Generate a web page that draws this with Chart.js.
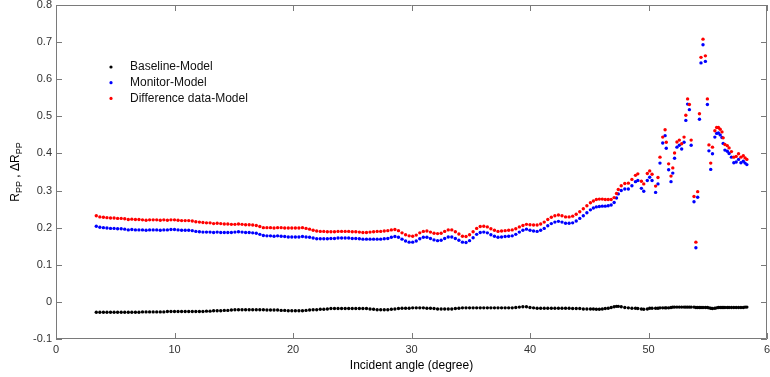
<!DOCTYPE html>
<html>
<head>
<meta charset="utf-8">
<script src="https://cdn.jsdelivr.net/npm/chart.js@4/dist/chart.umd.min.js"></script>
<style>
  html, body { margin: 0; padding: 0; background: #fff; }
  #wrap { width: 770px; height: 377px; }
</style>
</head>
<body>
<div id="wrap"><canvas id="myChart" width="770" height="377"></canvas></div>
<script>
// ================= Data =================
const angles = [
  3.4,3.7,4,4.3,4.6,4.9,5.2,5.5,5.8,6.1,
  6.4,6.7,7,7.3,7.6,7.9,8.2,8.5,8.8,9.1,
  9.4,9.7,10,10.3,10.6,10.9,11.2,11.5,11.8,12.1,
  12.4,12.7,13,13.3,13.6,13.9,14.2,14.5,14.8,15.1,
  15.4,15.7,16,16.3,16.6,16.9,17.2,17.5,17.8,18.1,
  18.4,18.7,19,19.3,19.6,19.9,20.2,20.5,20.8,21.1,
  21.4,21.7,22,22.3,22.6,22.9,23.2,23.5,23.8,24.1,
  24.4,24.7,25,25.3,25.6,25.9,26.2,26.5,26.8,27.1,
  27.4,27.7,28,28.3,28.6,28.9,29.2,29.5,29.8,30.1,
  30.4,30.7,31,31.3,31.6,31.9,32.2,32.5,32.8,33.1,
  33.4,33.7,34,34.3,34.6,34.9,35.2,35.5,35.8,36.1,
  36.4,36.7,37,37.3,37.6,37.9,38.2,38.5,38.8,39.1,
  39.4,39.7,40,40.3,40.6,40.9,41.2,41.5,41.8,42.1,
  42.4,42.7,43,43.3,43.6,43.9,44.2,44.5,44.8,45.1,
  45.35,45.6,45.85,46.1,46.35,46.6,46.85,47.1,47.3,47.45,
  47.7,48,48.3,48.6,48.9,49.1,49.4,49.6,49.9,50.1,
  50.3,50.6,50.8,50.97,51.2,51.4,51.5,51.7,51.9,52.05,
  52.2,52.4,52.6,52.8,53,53.15,53.3,53.45,53.6,53.84,
  54,54.15,54.3,54.43,54.6,54.8,54.97,55.1,55.25,55.4,
  55.6,55.75,55.9,56.05,56.2,56.3,56.45,56.65,56.8,57,
  57.2,57.4,57.6,57.8,58,58.15,58.3
];

const baseline = [
  -.028,-.028,-.028,-.028,-.028,-.028,-.028,-.028,-.028,-.028,
  -.028,-.028,-.028,-.027,-.027,-.027,-.027,-.027,-.027,-.027,
  -.026,-.026,-.026,-.026,-.026,-.026,-.026,-.026,-.026,-.026,
  -.026,-.025,-.025,-.024,-.024,-.024,-.023,-.023,-.022,-.021,
  -.021,-.021,-.021,-.021,-.021,-.021,-.021,-.021,-.022,-.022,
  -.022,-.022,-.023,-.023,-.024,-.024,-.024,-.024,-.024,-.023,
  -.022,-.021,-.021,-.020,-.020,-.019,-.018,-.018,-.018,-.018,
  -.018,-.018,-.018,-.018,-.018,-.018,-.018,-.019,-.020,-.021,
  -.021,-.021,-.021,-.020,-.019,-.018,-.017,-.017,-.017,-.016,
  -.016,-.016,-.016,-.017,-.017,-.018,-.019,-.019,-.019,-.019,
  -.019,-.018,-.017,-.016,-.016,-.016,-.016,-.016,-.016,-.016,
  -.016,-.016,-.016,-.016,-.016,-.016,-.016,-.016,-.015,-.014,
  -.013,-.013,-.015,-.016,-.017,-.017,-.017,-.017,-.017,-.017,
  -.017,-.017,-.017,-.017,-.018,-.018,-.018,-.019,-.019,-.019,
  -.019,-.020,-.020,-.019,-.018,-.017,-.015,-.013,-.012,-.012,
  -.013,-.015,-.016,-.017,-.017,-.018,-.019,-.020,-.019,-.017,
  -.017,-.017,-.017,-.016,-.016,-.016,-.016,-.016,-.015,-.014,
  -.014,-.014,-.014,-.014,-.014,-.014,-.014,-.014,-.014,-.014,
  -.015,-.015,-.015,-.015,-.015,-.015,-.015,-.016,-.017,-.018,
  -.017,-.016,-.015,-.015,-.015,-.015,-.015,-.015,-.015,-.015,
  -.015,-.015,-.015,-.015,-.015,-.014,-.014
];

const monitor = [
  .204,.201,.200,.199,.198,.198,.197,.197,.196,.194,
  .195,.194,.194,.194,.193,.194,.194,.194,.193,.194,
  .194,.195,.195,.194,.193,.193,.193,.192,.190,.189,
  .188,.188,.188,.187,.188,.187,.187,.187,.187,.188,
  .189,.188,.187,.187,.186,.185,.182,.179,.178,.178,
  .177,.178,.177,.176,.175,.175,.175,.175,.176,.175,
  .174,.172,.170,.170,.170,.170,.171,.171,.172,.172,
  .172,.172,.171,.171,.170,.169,.169,.169,.169,.169,
  .169,.170,.171,.174,.176,.174,.169,.164,.161,.161,
  .164,.170,.174,.174,.171,.167,.165,.166,.171,.175,
  .175,.171,.166,.161,.160,.165,.173,.182,.187,.188,
  .186,.181,.177,.174,.175,.176,.177,.178,.182,.188,
  .193,.196,.193,.191,.190,.193,.198,.205,.211,.215,
  .217,.215,.212,.212,.213,.218,.225,.232,.240,.248,
  .253,.256,.257,.258,.258,.259,.261,.268,.280,.291,
  .300,.304,.304,.313,.324,.327,.306,.298,.327,.336,
  .327,.295,.318,.374,.428,.448,.414,.356,.324,.347,
  .387,.417,.422,.412,.430,.489,.533,.518,.422,.270,
  .146,.282,.492,.644,.693,.648,.532,.407,.357,.399,
  .444,.454,.455,.450,.443,.427,.409,.406,.400,.390,
  .375,.377,.384,.375,.379,.374,.370
];

const difference = [
  .232,.229,.228,.227,.226,.226,.225,.225,.224,.222,
  .223,.222,.222,.221,.220,.221,.221,.221,.220,.221,
  .220,.221,.221,.220,.219,.219,.219,.218,.216,.215,
  .214,.213,.213,.211,.212,.211,.210,.210,.209,.209,
  .210,.209,.208,.208,.207,.206,.203,.200,.200,.200,
  .199,.200,.200,.199,.199,.199,.199,.199,.200,.198,
  .196,.193,.191,.190,.190,.189,.189,.189,.190,.190,
  .190,.190,.189,.189,.188,.187,.187,.188,.189,.190,
  .190,.191,.192,.194,.195,.192,.186,.181,.178,.177,
  .180,.186,.190,.191,.188,.185,.184,.185,.190,.194,
  .194,.189,.183,.177,.176,.181,.189,.198,.203,.204,
  .202,.197,.193,.190,.191,.192,.193,.194,.197,.202,
  .206,.209,.208,.207,.207,.210,.215,.222,.228,.232,
  .234,.232,.229,.229,.231,.236,.243,.251,.259,.267,
  .272,.276,.277,.277,.276,.276,.276,.281,.292,.303,
  .313,.319,.320,.330,.341,.345,.325,.318,.346,.353,
  .344,.312,.335,.390,.444,.464,.430,.372,.339,.361,
  .401,.431,.436,.426,.444,.503,.547,.532,.436,.284,
  .161,.297,.507,.659,.708,.663,.547,.423,.374,.417,
  .461,.470,.470,.465,.458,.442,.424,.421,.415,.405,
  .390,.392,.399,.390,.394,.388,.384
];

const seriesNames = ['Baseline-Model', 'Monitor-Model', 'Difference data-Model'];
const seriesColors = ['#000000', '#0000ff', '#ff0000'];
const xTickLabels = ['0', '10', '20', '30', '40', '50', '6'];
const yTickLabels = ['-0.1', '0', '0.1', '0.2', '0.3', '0.4', '0.5', '0.6', '0.7', '0.8'];

const FONT = 'Arial, "Liberation Sans", sans-serif';

function toPoints(values) {
  return angles.map((a, i) => ({ x: a, y: values[i] }));
}

// ================= Plugins =================
// box around plot with inward ticks on all four sides (matlab style)
const framePlugin = {
  id: 'frame',
  afterDraw(chart) {
    const { ctx, chartArea: a, scales: { x, y } } = chart;
    ctx.save();
    ctx.strokeStyle = '#7a7a7a';
    ctx.lineWidth = 1;
    ctx.beginPath();
    ctx.rect(a.left + 0.5, a.top + 0.5, a.right - a.left - 1, a.bottom - a.top - 1);
    x.ticks.forEach(t => {
      const px = Math.round(x.getPixelForValue(t.value)) + 0.5;
      ctx.moveTo(px, a.bottom); ctx.lineTo(px, a.bottom - 6);
      ctx.moveTo(px, a.top); ctx.lineTo(px, a.top + 6);
    });
    y.ticks.forEach(t => {
      const py = Math.round(y.getPixelForValue(t.value)) + 0.5;
      ctx.moveTo(a.left, py); ctx.lineTo(a.left + 6, py);
      ctx.moveTo(a.right, py); ctx.lineTo(a.right - 6, py);
    });
    ctx.stroke();
    ctx.restore();
  }
};

// y title with subscripts: R_PP , ΔR_PP
const yTitlePlugin = {
  id: 'yTitle',
  afterDraw(chart) {
    const { ctx, chartArea: a } = chart;
    const parts = [
      { t: 'R', sub: false }, { t: 'PP', sub: true },
      { t: ' , \u0394R', sub: false }, { t: 'PP', sub: true }
    ];
    const big = '12px ' + FONT, small = '9px ' + FONT;
    ctx.save();
    let total = 0;
    parts.forEach(p => { ctx.font = p.sub ? small : big; p.w = ctx.measureText(p.t).width; total += p.w; });
    ctx.translate(16, (a.top + a.bottom) / 2);
    ctx.rotate(-Math.PI / 2);
    ctx.fillStyle = '#000';
    ctx.textBaseline = 'middle';
    let cx = -total / 2;
    parts.forEach(p => {
      ctx.font = p.sub ? small : big;
      ctx.fillText(p.t, cx, p.sub ? 4 : 0);
      cx += p.w;
    });
    ctx.restore();
  }
};

// legend inside the plot, top left
const legendPlugin = {
  id: 'insideLegend',
  afterDraw(chart) {
    const { ctx } = chart;
    ctx.save();
    ctx.font = '12px ' + FONT;
    ctx.textBaseline = 'middle';
    chart.data.datasets.forEach((ds, i) => {
      const yy = 67 + i * 15.7;
      ctx.fillStyle = ds.backgroundColor;
      ctx.beginPath();
      ctx.arc(111, yy, 1.6, 0, Math.PI * 2);
      ctx.fill();
      ctx.fillStyle = '#111';
      ctx.fillText(ds.label, 130, yy);
    });
    ctx.restore();
  }
};

// ================= Chart =================
const ctx = document.getElementById('myChart');
const allSeries = [baseline, monitor, difference];

new Chart(ctx, {
  type: 'scatter',
  data: {
    datasets: allSeries.map((vals, i) => ({
      label: seriesNames[i],
      data: toPoints(vals),
      backgroundColor: seriesColors[i],
      borderColor: seriesColors[i],
      borderWidth: 0,
      pointRadius: 1.7,
      pointHoverRadius: 1.7,
      order: 2 - i
    }))
  },
  options: {
    responsive: false,
    animation: false,
    layout: { padding: { top: 5, left: 0, right: 0, bottom: 0 } },
    plugins: {
      legend: { display: false },
      tooltip: { enabled: false }
    },
    scales: {
      x: {
        type: 'linear',
        min: 0,
        max: 60,
        grid: { display: false, drawTicks: false },
        border: { display: false },
        ticks: {
          stepSize: 10,
          padding: 4,
          color: '#333',
          font: { family: FONT, size: 11 },
          maxRotation: 0,
          callback: (v, i) => xTickLabels[i]
        },
        title: {
          display: true,
          text: 'Incident angle (degree)',
          color: '#000',
          font: { family: FONT, size: 12 },
          padding: { top: 0, bottom: 4 }
        },
        afterFit: s => { s.height = 38; s.paddingLeft = 0; s.paddingRight = 3; }
      },
      y: {
        min: -0.1,
        max: 0.8,
        grid: { display: false, drawTicks: false },
        border: { display: false },
        ticks: {
          stepSize: 0.1,
          padding: 4,
          color: '#333',
          font: { family: FONT, size: 11 },
          callback: (v, i) => yTickLabels[i]
        },
        afterFit: s => { s.width = 56; s.paddingTop = 0; s.paddingBottom = 0; }
      }
    }
  },
  plugins: [framePlugin, yTitlePlugin, legendPlugin]
});
</script>
</body>
</html>
